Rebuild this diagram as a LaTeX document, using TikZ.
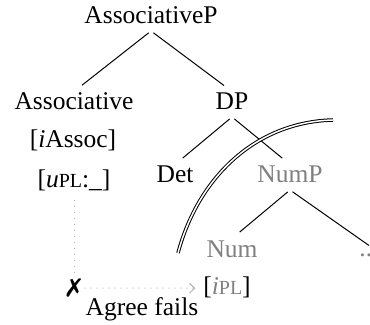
\documentclass[tikz,border=0pt]{standalone}
\usepackage{fontspec}
\setmainfont{Liberation Serif}
\usepackage{pifont}
\usetikzlibrary{arrows.meta}
\newcommand{\fsc}[1]{{\footnotesize #1}}

\begin{document}
\begin{tikzpicture}[x=0.4pt, y=-0.4pt, font=\fontsize{10.2}{12}\selectfont,
  lbl/.style={anchor=base, inner sep=0pt, text height=7.2pt, text depth=2.6pt},
  faded/.style={lbl, text=gray},
  branch/.style={shorten <=1.2pt, shorten >=4pt},
  probe/.style={gray!60, dotted}]
\useasboundingbox (0,0) rectangle (370,324);
% tree nodes
\node[lbl] (ap) at (151,24) {AssociativeP};
\node[lbl] (assoc) at (74,110) {Associative};
\node[lbl] (dp) at (232,110) {DP};
\node[lbl] (iassoc) at (73,148) {[\textit{i}Assoc]};
\node[lbl] (upl) at (74,188) {[\textit{u}\fsc{PL}:\_]};
\node[lbl] (det) at (175,183) {Det};
\node[faded] (nump) at (290,183) {NumP};
\node[faded] (num) at (232,257) {Num};
\node[faded, text height=4pt, text depth=0pt] (dots) at (369,256) {...};
\node[lbl] (ipl) at (227,294) {[\textcolor{gray}{\textit{i}\fsc{PL}}]};
% branches
\draw[branch] (ap.south) -- (assoc.north);
\draw[branch] (ap.south) -- (dp.north);
\draw[branch] (dp.south) -- (det.north);
\draw[branch] (dp.south) -- (nump.north);
\draw[branch] (nump.south) -- (num.north);
\draw[shorten <=1.2pt] (nump.south) -- (dots.north);
% failed agree
\node[inner sep=1pt] (xmark) at (74,288) {\ding{55}};
\node[lbl] (fails) at (142,315) {Agree fails};
\draw[probe, shorten <=2pt] (upl) -- (xmark);
\draw[probe, shorten >=3pt, -{Straight Barb[length=2pt]}] (xmark) -- (ipl);
% phase boundary
\draw[double, double distance=0.6pt] (178,253) .. controls (198,178) and (255,122) .. (333,120);
\end{tikzpicture}
\end{document}
